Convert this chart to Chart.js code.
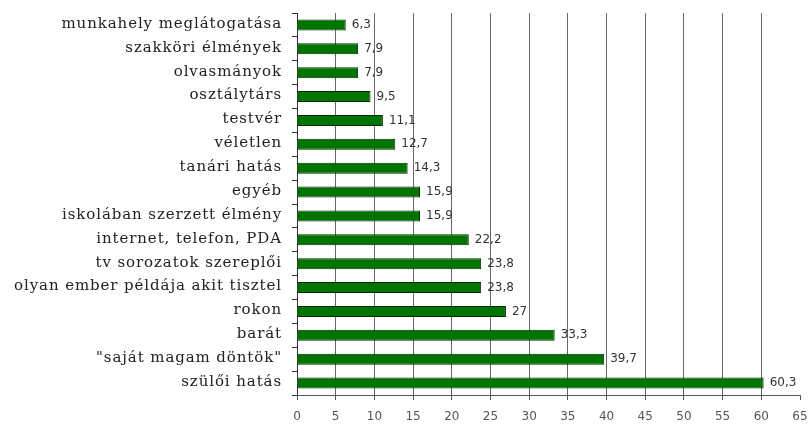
<!DOCTYPE html>
<html>
<head>
<meta charset="utf-8">
<script src="https://cdn.jsdelivr.net/npm/chart.js@4"></script>
<style>
  html, body { margin: 0; padding: 0; background: #fff; }
  #wrap { width: 810px; height: 429px; }
</style>
</head>
<body>
<div id="wrap"><canvas id="chart" width="810" height="429"></canvas></div>
<script>
const categories = [
  'munkahely meglátogatása', 'szakköri élmények', 'olvasmányok', 'osztálytárs',
  'testvér', 'véletlen', 'tanári hatás', 'egyéb', 'iskolában szerzett élmény',
  'internet, telefon, PDA', 'tv sorozatok szereplői', 'olyan ember példája akit tisztel',
  'rokon', 'barát', '"saját magam döntök"', 'szülői hatás'
];
const values = [6.3, 7.9, 7.9, 9.5, 11.1, 12.7, 14.3, 15.9, 15.9, 22.2, 23.8, 23.8, 27, 33.3, 39.7, 60.3];
const xTicks = [0, 5, 10, 15, 20, 25, 30, 35, 40, 45, 50, 55, 60, 65];

const fmt = v => String(v).replace('.', ',');

// category names and value labels, drawn where the scales put them
const textLayer = {
  id: 'textLayer',
  afterDraw(chart) {
    const ctx = chart.ctx;
    const y = chart.scales.y;
    const meta = chart.getDatasetMeta(0);
    ctx.save();
    ctx.textBaseline = 'middle';

    ctx.font = '15px "DejaVu Serif", serif';
    ctx.fillStyle = '#222';
    ctx.textAlign = 'right';
    ctx.letterSpacing = '0.9px';
    categories.forEach((name, i) => {
      ctx.fillText(name, y.right - 15, y.getPixelForTick(i) - 1);
    });

    ctx.font = '12px "DejaVu Sans", sans-serif';
    ctx.fillStyle = '#333';
    ctx.textAlign = 'left';
    ctx.letterSpacing = '0px';
    meta.data.forEach((bar, i) => {
      ctx.fillText(fmt(values[i]), bar.x + 6, bar.y);
    });
    ctx.restore();
  }
};

new Chart(document.getElementById('chart').getContext('2d'), {
  type: 'bar',
  data: {
    labels: categories,
    datasets: [{
      data: values,
      backgroundColor: '#007400',
      borderColor: '#002800',
      borderWidth: 1,
      categoryPercentage: 0.46,
      barPercentage: 1
    }]
  },
  options: {
    indexAxis: 'y',
    responsive: false,
    animation: false,
    layout: { padding: { top: 13, right: 10, left: 0, bottom: 0 } },
    plugins: {
      legend: { display: false },
      tooltip: { enabled: false }
    },
    scales: {
      x: {
        min: 0,
        max: 65,
        afterBuildTicks: axis => { axis.ticks = xTicks.map(v => ({ value: v })); },
        afterFit: axis => { axis.height = 34; axis.paddingRight = 0; axis.paddingLeft = 0; },
        border: { color: '#555', width: 1 },
        grid: {
          color: c => (c.tick && (c.tick.value === 0 || c.tick.value === 65)) ? 'rgba(0,0,0,0)' : '#666',
          tickColor: '#555',
          tickLength: 5
        },
        ticks: {
          color: '#555',
          font: { family: '"DejaVu Sans", sans-serif', size: 12 },
          padding: 10,
          maxRotation: 0
        }
      },
      y: {
        afterFit: axis => { axis.width = 297; },
        border: { color: '#333', width: 1 },
        grid: {
          offset: true,
          drawOnChartArea: false,
          tickColor: '#333',
          tickLength: 5
        },
        ticks: { display: false }
      }
    }
  },
  plugins: [textLayer]
});
</script>
</body>
</html>
